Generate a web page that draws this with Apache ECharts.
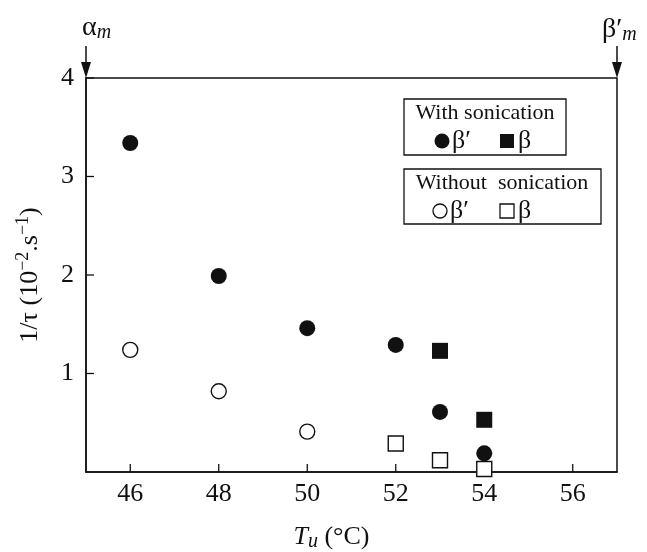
<!DOCTYPE html>
<html><head><meta charset="utf-8">
<script src="https://cdn.jsdelivr.net/npm/echarts@6/dist/echarts.min.js"></script>
<style>html,body{margin:0;padding:0;background:#fff}#c{width:647px;height:552px}</style>
</head><body><div id="c"></div>
<script>
const xTicks = [46, 48, 50, 52, 54, 56];
const yTicks = [1, 2, 3, 4];
const withBetaPrime = [[46, 3.34], [48, 1.99], [50, 1.46], [52, 1.29], [53, 0.61], [54, 0.19]];
const withBeta = [[53, 1.23], [54, 0.53]];
const withoutBetaPrime = [[46, 1.24], [48, 0.82], [50, 0.41]];
const withoutBeta = [[52, 0.29], [53, 0.12], [54, 0.03]];
const X_MIN = 45, X_MAX = 57, Y_MIN = 0, Y_MAX = 4;

const F = '"Liberation Serif","DejaVu Serif",serif';
const ink = '#111';
const chart = echarts.init(document.getElementById('c'));
const openStyle = {color: '#fff', borderColor: ink, borderWidth: 1.4, opacity: 1};
const fillStyle = {color: ink, opacity: 1};
const TL = 8;

const tickData = xTicks.map(v => [v, Y_MIN, 0]).concat(yTicks.map(v => [X_MIN, v, 1]));

chart.setOption({
  animation: false,
  backgroundColor: '#fff',
  grid: {left: 86, top: 78, width: 531, height: 394, show: true, borderColor: ink, borderWidth: 1.5,
    backgroundColor: 'transparent', containLabel: false, outerBoundsMode: 'none'},
  xAxis: {
    type: 'value', min: X_MIN, max: X_MAX, splitNumber: 6,
    axisLine: {show: true, lineStyle: {color: ink, width: 1.5}},
    axisTick: {show: false},
    axisLabel: {showMinLabel: false, showMaxLabel: false, color: ink, fontFamily: F, fontSize: 26, margin: 9,
      formatter: v => xTicks.includes(v) ? String(v) : ''},
    splitLine: {show: false},
    name: '{i|T}{sub|u} (°C)', nameLocation: 'middle', nameGap: 50,
    nameTextStyle: {color: ink, fontFamily: F, fontSize: 26, lineHeight: 30, padding: [0, 40, 0, 0],
      rich: {i: {fontFamily: F, fontStyle: 'italic', fontSize: 26, color: ink, lineHeight: 30},
             sub: {fontFamily: F, fontStyle: 'italic', fontSize: 20, color: ink, lineHeight: 26, verticalAlign: 'bottom'}}}
  },
  yAxis: {
    type: 'value', min: Y_MIN, max: Y_MAX, interval: 1,
    axisLine: {show: true, lineStyle: {color: ink, width: 1.5}},
    axisTick: {show: false},
    axisLabel: {color: ink, fontFamily: F, fontSize: 26, margin: 12,
      formatter: v => yTicks.includes(v) ? String(v) : ''},
    splitLine: {show: false},
    name: '1/τ (10{s|−2}.s{s|−1})', nameLocation: 'middle', nameGap: 40, nameRotate: 90,
    nameTextStyle: {color: ink, fontFamily: F, fontSize: 26, lineHeight: 32,
      rich: {s: {fontFamily: F, fontSize: 18, color: ink, lineHeight: 32, verticalAlign: 'top'}}}
  },
  series: [
    {type: 'custom', data: tickData, silent: true, z: 1,
      renderItem: (params, api) => {
        const p = api.coord([api.value(0), api.value(1)]);
        const horiz = api.value(2) === 1;
        return {type: 'line', shape: horiz ? {x1: p[0], y1: p[1], x2: p[0] + TL, y2: p[1]} : {x1: p[0], y1: p[1], x2: p[0], y2: p[1] - TL},
          style: {stroke: ink, lineWidth: 1.3}};
      }},
    {type: 'scatter', data: withBetaPrime, symbol: 'circle', symbolSize: 16, itemStyle: fillStyle, z: 3},
    {type: 'scatter', data: withBeta, symbol: 'rect', symbolSize: 16, itemStyle: fillStyle, z: 3},
    {type: 'scatter', data: withoutBetaPrime, symbol: 'circle', symbolSize: 15, itemStyle: openStyle, z: 3},
    {type: 'scatter', data: withoutBeta, symbol: 'rect', symbolSize: 15, itemStyle: openStyle, z: 3}
  ],
  graphic: [
    {type: 'rect', shape: {x: 404, y: 99, width: 162, height: 56}, style: {fill: '#fff', stroke: ink, lineWidth: 1.3}},
    {type: 'text', x: 485, y: 113, style: {text: 'With sonication', font: '22px ' + F, fill: ink, align: 'center', verticalAlign: 'middle'}},
    {type: 'circle', shape: {cx: 442, cy: 141, r: 7.5}, style: {fill: ink}},
    {type: 'text', x: 452, y: 141, style: {text: 'β′', font: '26px ' + F, fill: ink, verticalAlign: 'middle'}},
    {type: 'rect', shape: {x: 500, y: 134, width: 14, height: 14}, style: {fill: ink}},
    {type: 'text', x: 518, y: 141, style: {text: 'β', font: '26px ' + F, fill: ink, verticalAlign: 'middle'}},
    {type: 'rect', shape: {x: 404, y: 169, width: 197, height: 55}, style: {fill: '#fff', stroke: ink, lineWidth: 1.3}},
    {type: 'text', x: 502, y: 183, style: {text: 'Without  sonication', font: '22px ' + F, fill: ink, align: 'center', verticalAlign: 'middle'}},
    {type: 'circle', shape: {cx: 440, cy: 211, r: 7}, style: {fill: '#fff', stroke: ink, lineWidth: 1.3}},
    {type: 'text', x: 450, y: 211, style: {text: 'β′', font: '26px ' + F, fill: ink, verticalAlign: 'middle'}},
    {type: 'rect', shape: {x: 500, y: 204, width: 14, height: 14}, style: {fill: '#fff', stroke: ink, lineWidth: 1.3}},
    {type: 'text', x: 518, y: 211, style: {text: 'β', font: '26px ' + F, fill: ink, verticalAlign: 'middle'}},
    {type: 'line', shape: {x1: 86, y1: 46, x2: 86, y2: 66}, style: {stroke: ink, lineWidth: 1.5}},
    {type: 'polygon', shape: {points: [[81, 62], [91, 62], [86, 78]]}, style: {fill: ink}},
    {type: 'line', shape: {x1: 617, y1: 46, x2: 617, y2: 66}, style: {stroke: ink, lineWidth: 1.5}},
    {type: 'polygon', shape: {points: [[612, 62], [622, 62], [617, 78]]}, style: {fill: ink}},
    {type: 'text', x: 82, y: 28, style: {text: '{a|α}{m|m}', fill: ink, verticalAlign: 'middle',
      rich: {a: {fontFamily: F, fontSize: 28, fill: ink, lineHeight: 30}, m: {fontFamily: F, fontStyle: 'italic', fontSize: 20, fill: ink, lineHeight: 26, verticalAlign: 'bottom'}}}},
    {type: 'text', x: 602, y: 30, style: {text: '{a|β′}{m|m}', fill: ink, verticalAlign: 'middle',
      rich: {a: {fontFamily: F, fontSize: 28, fill: ink, lineHeight: 30}, m: {fontFamily: F, fontStyle: 'italic', fontSize: 20, fill: ink, lineHeight: 26, verticalAlign: 'bottom'}}}}
  ]
});
</script></body></html>
